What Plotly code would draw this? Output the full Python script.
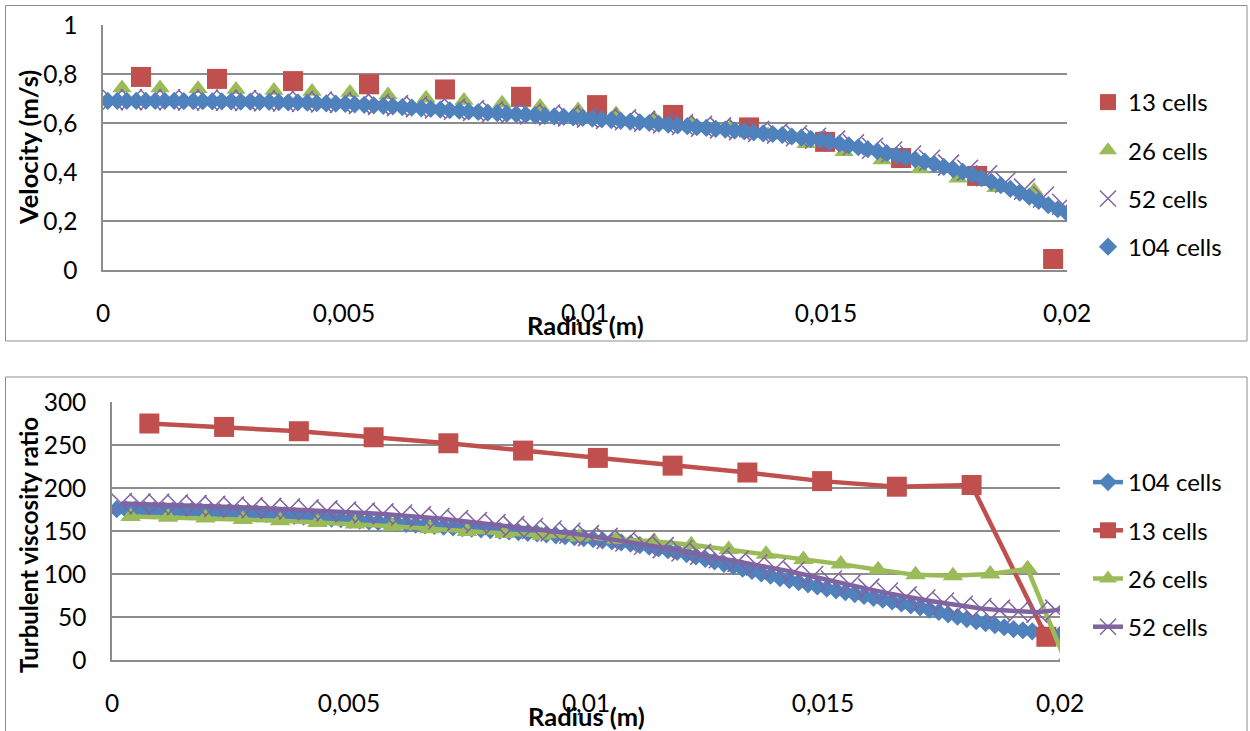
import plotly.graph_objects as go

# ---------------- data ----------------
x13 = [0.000788, 0.002365, 0.003942, 0.005519, 0.007096, 0.008673, 0.010250,
       0.011827, 0.013404, 0.014981, 0.016558, 0.018135, 0.019712]
vel13 = [0.788, 0.780, 0.771, 0.758, 0.737, 0.707, 0.673, 0.633, 0.582, 0.523,
         0.457, 0.384, 0.045]
visc13 = [275, 271, 266, 259, 252, 243.5, 235, 226, 218, 208, 201.5, 203.5, 27]

x26 = [0.000394, 0.001183, 0.001971, 0.002760, 0.003548, 0.004337, 0.005125,
       0.005913, 0.006702, 0.007490, 0.008279, 0.009067, 0.009856, 0.010644,
       0.011433, 0.012221, 0.013010, 0.013798, 0.014587, 0.015375, 0.016163,
       0.016952, 0.017740, 0.018529, 0.019317, 0.020106]
vel26 = [0.743, 0.743, 0.740, 0.737, 0.733, 0.729, 0.724, 0.714, 0.701, 0.692,
         0.681, 0.667, 0.653, 0.637, 0.618, 0.599, 0.578, 0.551, 0.515, 0.483,
         0.449, 0.412, 0.374, 0.336, 0.325, 0.260]
visc26 = [167, 166, 165, 163.5, 162, 160, 158, 155.5, 152.5, 149.5, 147, 145,
          143, 140.5, 138, 134, 128.5, 123, 117, 111.5, 105, 99, 98, 100, 106, 0]

x52 = [0.000197, 0.000591, 0.000986, 0.001380, 0.001774, 0.002168, 0.002563,
       0.002957, 0.003351, 0.003745, 0.004139, 0.004534, 0.004928, 0.005322,
       0.005716, 0.006111, 0.006505, 0.006899, 0.007293, 0.007688, 0.008082,
       0.008476, 0.008870, 0.009264, 0.009659, 0.010053, 0.010447, 0.010841,
       0.011236, 0.011630, 0.012024, 0.012418, 0.012813, 0.013207, 0.013601,
       0.013995, 0.014389, 0.014784, 0.015178, 0.015572, 0.015966, 0.016361,
       0.016755, 0.017149, 0.017543, 0.017938, 0.018332, 0.018726, 0.019120,
       0.019514, 0.019909, 0.020303]
vel52 = [0.695, 0.695, 0.695, 0.695, 0.694, 0.694, 0.693, 0.692, 0.691, 0.690,
         0.688, 0.686, 0.684, 0.680, 0.676, 0.671, 0.666, 0.661, 0.656, 0.651,
         0.646, 0.642, 0.637, 0.633, 0.629, 0.624, 0.618, 0.613, 0.607, 0.600,
         0.594, 0.587, 0.580, 0.573, 0.565, 0.558, 0.548, 0.538, 0.526, 0.511,
         0.497, 0.482, 0.465, 0.448, 0.428, 0.407, 0.385, 0.358, 0.330, 0.298,
         0.268, 0.235]
visc52 = [182, 181.5, 181, 180.5, 179.5, 178.7, 178, 177.1, 176.3, 175.5,
          174.6, 173.4, 172.2, 171, 169.9, 168.5, 166.5, 164.5, 162.2, 159.9,
          157.5, 155.1, 152.8, 150.1, 147.4, 144.6, 141.4, 138.3, 134.6, 130.7,
          126.8, 122.8, 118.9, 114.7, 110.4, 106.1, 102.2, 97.1, 91.8, 87.1,
          82.4, 77.8, 73.4, 69.7, 66.2, 62.6, 59.9, 58, 56.2, 55.5, 58, 62]

x104 = [0.000099, 0.000296, 0.000493, 0.000690, 0.000887, 0.001084, 0.001281,
        0.001478, 0.001676, 0.001873, 0.002070, 0.002267, 0.002464, 0.002661,
        0.002858, 0.003055, 0.003252, 0.003449, 0.003646, 0.003844, 0.004041,
        0.004238, 0.004435, 0.004632, 0.004829, 0.005026, 0.005223, 0.005420,
        0.005617, 0.005815, 0.006012, 0.006209, 0.006406, 0.006603, 0.006800,
        0.006997, 0.007194, 0.007391, 0.007588, 0.007785, 0.007983, 0.008180,
        0.008377, 0.008574, 0.008771, 0.008968, 0.009165, 0.009362, 0.009559,
        0.009756, 0.009954, 0.010151, 0.010348, 0.010545, 0.010742, 0.010939,
        0.011136, 0.011333, 0.011530, 0.011727, 0.011924, 0.012122, 0.012319,
        0.012516, 0.012713, 0.012910, 0.013107, 0.013304, 0.013501, 0.013698,
        0.013895, 0.014093, 0.014290, 0.014487, 0.014684, 0.014881, 0.015078,
        0.015275, 0.015472, 0.015669, 0.015866, 0.016064, 0.016261, 0.016458,
        0.016655, 0.016852, 0.017049, 0.017246, 0.017443, 0.017640, 0.017837,
        0.018034, 0.018232, 0.018429, 0.018626, 0.018823, 0.019020, 0.019217,
        0.019414, 0.019611, 0.019808, 0.020005, 0.020203, 0.020400]
vel104 = [0.690, 0.690, 0.690, 0.690, 0.690, 0.690, 0.690, 0.690, 0.689, 0.689,
          0.689, 0.688, 0.688, 0.688, 0.687, 0.687, 0.686, 0.686, 0.685, 0.684,
          0.684, 0.683, 0.681, 0.680, 0.679, 0.678, 0.676, 0.674, 0.672, 0.670,
          0.668, 0.665, 0.663, 0.660, 0.658, 0.655, 0.652, 0.650, 0.647, 0.645,
          0.642, 0.640, 0.638, 0.636, 0.634, 0.631, 0.629, 0.627, 0.625, 0.623,
          0.621, 0.618, 0.615, 0.612, 0.609, 0.606, 0.603, 0.600, 0.597, 0.593,
          0.590, 0.587, 0.583, 0.580, 0.576, 0.573, 0.569, 0.566, 0.562, 0.558,
          0.555, 0.551, 0.545, 0.540, 0.535, 0.530, 0.524, 0.516, 0.509, 0.501,
          0.493, 0.485, 0.477, 0.468, 0.460, 0.451, 0.442, 0.432, 0.421, 0.411,
          0.401, 0.389, 0.375, 0.360, 0.346, 0.331, 0.316, 0.299, 0.282, 0.265,
          0.248, 0.232, 0.215, 0.198]
visc104 = [175.4, 175.1, 174.8, 174.5, 174.2, 173.9, 173.6, 173.3, 173.0, 172.7,
           172.4, 172.0, 171.6, 171.2, 170.8, 170.3, 169.6, 168.9, 168.2, 167.5,
           166.8, 166.0, 165.3, 164.5, 163.7, 162.9, 162.1, 161.3, 160.5, 159.7,
           159.0, 158.2, 157.4, 156.6, 155.8, 155.0, 154.2, 153.4, 152.6, 151.9,
           151.1, 150.3, 149.5, 148.7, 147.9, 147.1, 146.1, 145.0, 143.9, 142.8,
           141.8, 140.5, 139.2, 138.0, 136.7, 135.4, 133.6, 131.7, 129.7, 127.7,
           125.8, 123.2, 120.4, 117.5, 114.7, 111.8, 109.0, 106.2, 103.5, 100.7,
           98.0, 95.3, 92.9, 90.4, 88.0, 85.5, 83.1, 81.0, 78.8, 76.6,
           74.5, 72.3, 70.1, 68.0, 65.8, 63.6, 61.3, 58.6, 55.8, 53.0,
           50.3, 47.6, 45.2, 42.9, 40.5, 38.1, 35.9, 34.6, 33.3, 32.0,
           30.8, 29.5, 28.5, 27.5]

x_tickvals = [0, 0.005, 0.01, 0.015, 0.02]
x_ticktext = ["0", "0,005", "0,01", "0,015", "0,02"]
vel_tickvals = [0, 0.2, 0.4, 0.6, 0.8, 1]
vel_ticktext = ["0", "0,2", "0,4", "0,6", "0,8", "1"]
visc_tickvals = [0, 50, 100, 150, 200, 250, 300]
visc_ticktext = ["0", "50", "100", "150", "200", "250", "300"]

# ---------------- style ----------------
BLUE, RED, GREEN, PURPLE = "#4F81BD", "#C0504D", "#9BBB59", "#8064A2"
GRID = "#8C8C8C"
FONT = "Lato"
W, H = 1250, 731


def px_x(p):
    return p / W


def px_y(p):
    return 1 - p / H


fig = go.Figure()

# ---- top chart: velocity (markers only) ----
fig.add_trace(go.Scatter(x=x13, y=vel13, mode="markers", name="13 cells",
                         marker=dict(symbol="square", size=20, color=RED,
                                     line=dict(width=0)),
                         xaxis="x", yaxis="y", legend="legend", legendgroup="a13"))
fig.add_trace(go.Scatter(x=x26, y=vel26, mode="markers", name="26 cells",
                         marker=dict(symbol="triangle-up", size=17, color=GREEN,
                                     line=dict(width=0)),
                         xaxis="x", yaxis="y", legend="legend", legendgroup="a26"))
fig.add_trace(go.Scatter(x=x52, y=vel52, mode="markers", name="52 cells",
                         marker=dict(symbol="x-thin-open", size=21, color=PURPLE,
                                     line=dict(width=1.5, color=PURPLE)),
                         xaxis="x", yaxis="y", legend="legend", legendgroup="a52"))
fig.add_trace(go.Scatter(x=x104, y=vel104, mode="markers", name="104 cells",
                         marker=dict(symbol="diamond", size=14, color=BLUE,
                                     line=dict(width=0)),
                         xaxis="x", yaxis="y", legend="legend", legendgroup="a104"))

# ---- bottom chart: turbulent viscosity ratio (lines + markers) ----
fig.add_trace(go.Scatter(x=x104, y=visc104, mode="lines+markers", name="104 cells",
                         line=dict(color=BLUE, width=4.5),
                         marker=dict(symbol="diamond", size=14, color=BLUE),
                         xaxis="x2", yaxis="y2", legend="legend2", legendgroup="b104"))
fig.add_trace(go.Scatter(x=x13, y=visc13, mode="lines+markers", name="13 cells",
                         line=dict(color=RED, width=4.5),
                         marker=dict(symbol="square", size=20, color=RED),
                         xaxis="x2", yaxis="y2", legend="legend2", legendgroup="b13"))
fig.add_trace(go.Scatter(x=x26, y=visc26, mode="lines+markers", name="26 cells",
                         line=dict(color=GREEN, width=4.5),
                         marker=dict(symbol="triangle-up", size=18, color=GREEN),
                         xaxis="x2", yaxis="y2", legend="legend2", legendgroup="b26"))
fig.add_trace(go.Scatter(x=x52, y=visc52, mode="lines+markers", name="52 cells",
                         line=dict(color=PURPLE, width=4.5),
                         marker=dict(symbol="x-thin-open", size=21, color=PURPLE,
                                     line=dict(width=1.5, color=PURPLE)),
                         xaxis="x2", yaxis="y2", legend="legend2", legendgroup="b52"))

axis_font = dict(family=FONT, size=24.5, color="#000000")
common_x = dict(range=[0, 0.02], tickvals=x_tickvals, ticktext=x_ticktext,
                showgrid=False, zeroline=False, showline=True, linecolor=GRID,
                linewidth=1.5, ticks="", tickfont=axis_font,
                ticklabelstandoff=21, fixedrange=True, automargin=False)
common_y = dict(showgrid=True, gridcolor=GRID, gridwidth=1.5, zeroline=False,
                showline=True, linecolor=GRID, linewidth=1.5, ticks="",
                tickfont=axis_font, ticklabelstandoff=19, fixedrange=True,
                automargin=False)

fig.update_layout(
    width=W, height=H,
    margin=dict(l=0, r=0, t=0, b=0, autoexpand=False),
    paper_bgcolor="white", plot_bgcolor="white",
    font=dict(family=FONT, size=24, color="#000000"),
    xaxis=dict(domain=[px_x(103), px_x(1067)], anchor="y", **common_x),
    yaxis=dict(domain=[px_y(270), px_y(25)], anchor="x", range=[0, 1],
               tickvals=vel_tickvals, ticktext=vel_ticktext, **common_y),
    xaxis2=dict(domain=[px_x(112), px_x(1060)], anchor="y2", **common_x),
    yaxis2=dict(domain=[px_y(660), px_y(402)], anchor="x2", range=[0, 300],
                tickvals=visc_tickvals, ticktext=visc_ticktext, **common_y),
    legend=dict(x=px_x(1088), y=px_y(80), xanchor="left", yanchor="top",
                font=dict(family=FONT, size=24), tracegroupgap=14,
                bgcolor="rgba(0,0,0,0)", traceorder="grouped"),
    legend2=dict(x=px_x(1088), y=px_y(460), xanchor="left", yanchor="top",
                 font=dict(family=FONT, size=24), tracegroupgap=14,
                 bgcolor="rgba(0,0,0,0)", traceorder="grouped"),
    showlegend=True,
    shapes=[
        dict(type="rect", xref="paper", yref="paper",
             x0=px_x(5.5), x1=px_x(1247), y0=px_y(341), y1=px_y(5.5),
             line=dict(color=GRID, width=1), fillcolor="rgba(0,0,0,0)", layer="below"),
        dict(type="rect", xref="paper", yref="paper",
             x0=px_x(5.5), x1=px_x(1247), y0=px_y(740), y1=px_y(377),
             line=dict(color=GRID, width=1), fillcolor="rgba(0,0,0,0)", layer="below"),
    ],
    annotations=[
        dict(text="<b>Radius (m)</b>", xref="paper", yref="paper",
             x=px_x(585), y=px_y(325), showarrow=False,
             font=dict(family=FONT, size=25.5), xanchor="center", yanchor="middle"),
        dict(text="<b>Velocity (m/s)</b>", xref="paper", yref="paper",
             x=px_x(28), y=px_y(148), showarrow=False, textangle=-90,
             font=dict(family=FONT, size=25.5), xanchor="center", yanchor="middle"),
        dict(text="<b>Radius (m)</b>", xref="paper", yref="paper",
             x=px_x(586), y=px_y(716), showarrow=False,
             font=dict(family=FONT, size=25.5), xanchor="center", yanchor="middle"),
        dict(text="<b>Turbulent viscosity ratio</b>", xref="paper", yref="paper",
             x=px_x(28), y=px_y(545), showarrow=False, textangle=-90,
             font=dict(family=FONT, size=24), xanchor="center", yanchor="middle"),
    ],
)

fig.write_html("out.html", config={"displayModeBar": False},
               post_script="document.body.style.margin='0';document.body.style.overflow='hidden';")
